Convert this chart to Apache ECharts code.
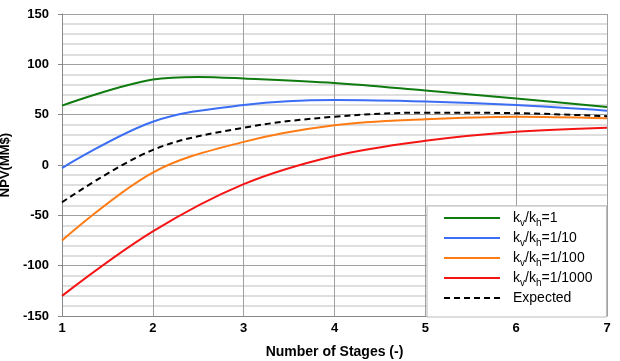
<!DOCTYPE html>
<html><head><meta charset="utf-8">
<script src="https://cdn.jsdelivr.net/npm/echarts@6/dist/echarts.min.js"></script>
<style>html,body{margin:0;padding:0;background:#fff}#c{width:620px;height:361px}</style>
</head><body><div id="c"></div>
<script>
const stages = [1, 2, 3, 4, 5, 6, 7];
const kv1Stages = [1, 2, 2.5, 3, 4, 5, 6, 7];
const kv1 = [59, 85, 87.5, 86, 81.5, 74, 66, 57.5];
const kv10 = [-3, 43, 59.5, 64.5, 63, 59.5, 54];
const kv100 = [-75, -7.5, 23, 39.5, 45.5, 48, 46.5];
const kv1000 = [-130, -66, -19, 9, 24, 33, 37];
const expected = [-37, 15, 37, 48, 52, 51.5, 48.5];
const names = ['kv1', 'kv10', 'kv100', 'kv1000', 'Expected'];
const labels = {
  kv1: '{n|k}{s|v}{n|/k}{s|h}{n|=1}',
  kv10: '{n|k}{s|v}{n|/k}{s|h}{n|=1/10}',
  kv100: '{n|k}{s|v}{n|/k}{s|h}{n|=1/100}',
  kv1000: '{n|k}{s|v}{n|/k}{s|h}{n|=1/1000}',
  Expected: '{n|Expected}'
};
const font = 'Liberation Sans, Arial, sans-serif';
const pair = (xs, a) => xs.map((s, i) => [s, a[i]]);
const mk = (name, xs, arr, color, type) => ({
  name, type: 'line', data: pair(xs, arr), smooth: 0.35, symbol: 'none',
  lineStyle: { color, width: 2, type: type || 'solid' }, itemStyle: { color }, z: 3
});
const chart = echarts.init(document.getElementById('c'));
chart.setOption({
  animation: false,
  grid: { left: 62, right: 13, top: 14, bottom: 45, outerBoundsMode: 'none', containLabel: false },
  xAxis: {
    type: 'value', min: 1, max: 7, interval: 1,
    name: 'Number of Stages (-)', nameLocation: 'middle', nameGap: 29,
    nameTextStyle: { fontFamily: font, fontWeight: 'bold', fontSize: 14, color: '#000' },
    axisLine: { show: true, onZero: false, lineStyle: { color: '#888', width: 1 } },
    axisTick: { show: false },
    axisLabel: { fontFamily: font, fontWeight: 'bold', fontSize: 13, color: '#000', margin: 6 },
    splitLine: { show: true, lineStyle: { color: '#a0a0a0', width: 1 } }
  },
  yAxis: {
    type: 'value', min: -150, max: 150, interval: 50,
    name: 'NPV(MM$)', nameLocation: 'middle', nameGap: 44,
    nameTextStyle: { fontFamily: font, fontWeight: 'bold', fontSize: 13, color: '#000' },
    axisLine: { show: true, lineStyle: { color: '#888', width: 1 } },
    axisTick: { show: true, length: 4, lineStyle: { color: '#888' } },
    axisLabel: { fontFamily: font, fontWeight: 'bold', fontSize: 13, color: '#000', margin: 13 },
    splitLine: { show: true, lineStyle: { color: '#a0a0a0', width: 1 } },
    minorTick: { show: false, splitNumber: 5 },
    minorSplitLine: { show: true, lineStyle: { color: '#d4d4d4', width: 1.5 } }
  },
  legend: {
    orient: 'vertical', left: 427, top: 206,
    padding: [5, 14, 12, 16],
    backgroundColor: '#fff', borderColor: '#bbb', borderWidth: 1,
    itemWidth: 56, itemHeight: 14, itemGap: 3,
    itemStyle: { opacity: 0 },
    data: names,
    formatter: n => labels[n],
    textStyle: {
      padding: [0, 0, 0, 8],
      rich: {
        n: { fontFamily: font, fontSize: 14, color: '#000', lineHeight: 14, verticalAlign: 'bottom' },
        s: { fontFamily: font, fontSize: 10, color: '#000', lineHeight: 14, verticalAlign: 'bottom', padding: [0, 0, -3, 0] }
      }
    }
  },
  series: [
    mk('kv1', kv1Stages, kv1, '#0f7b0f'),
    mk('kv10', stages, kv10, '#3b6ef5'),
    mk('kv100', stages, kv100, '#ff7b14'),
    mk('kv1000', stages, kv1000, '#f51414'),
    mk('Expected', stages, expected, '#000', [6, 4])
  ]
});
</script></body></html>
